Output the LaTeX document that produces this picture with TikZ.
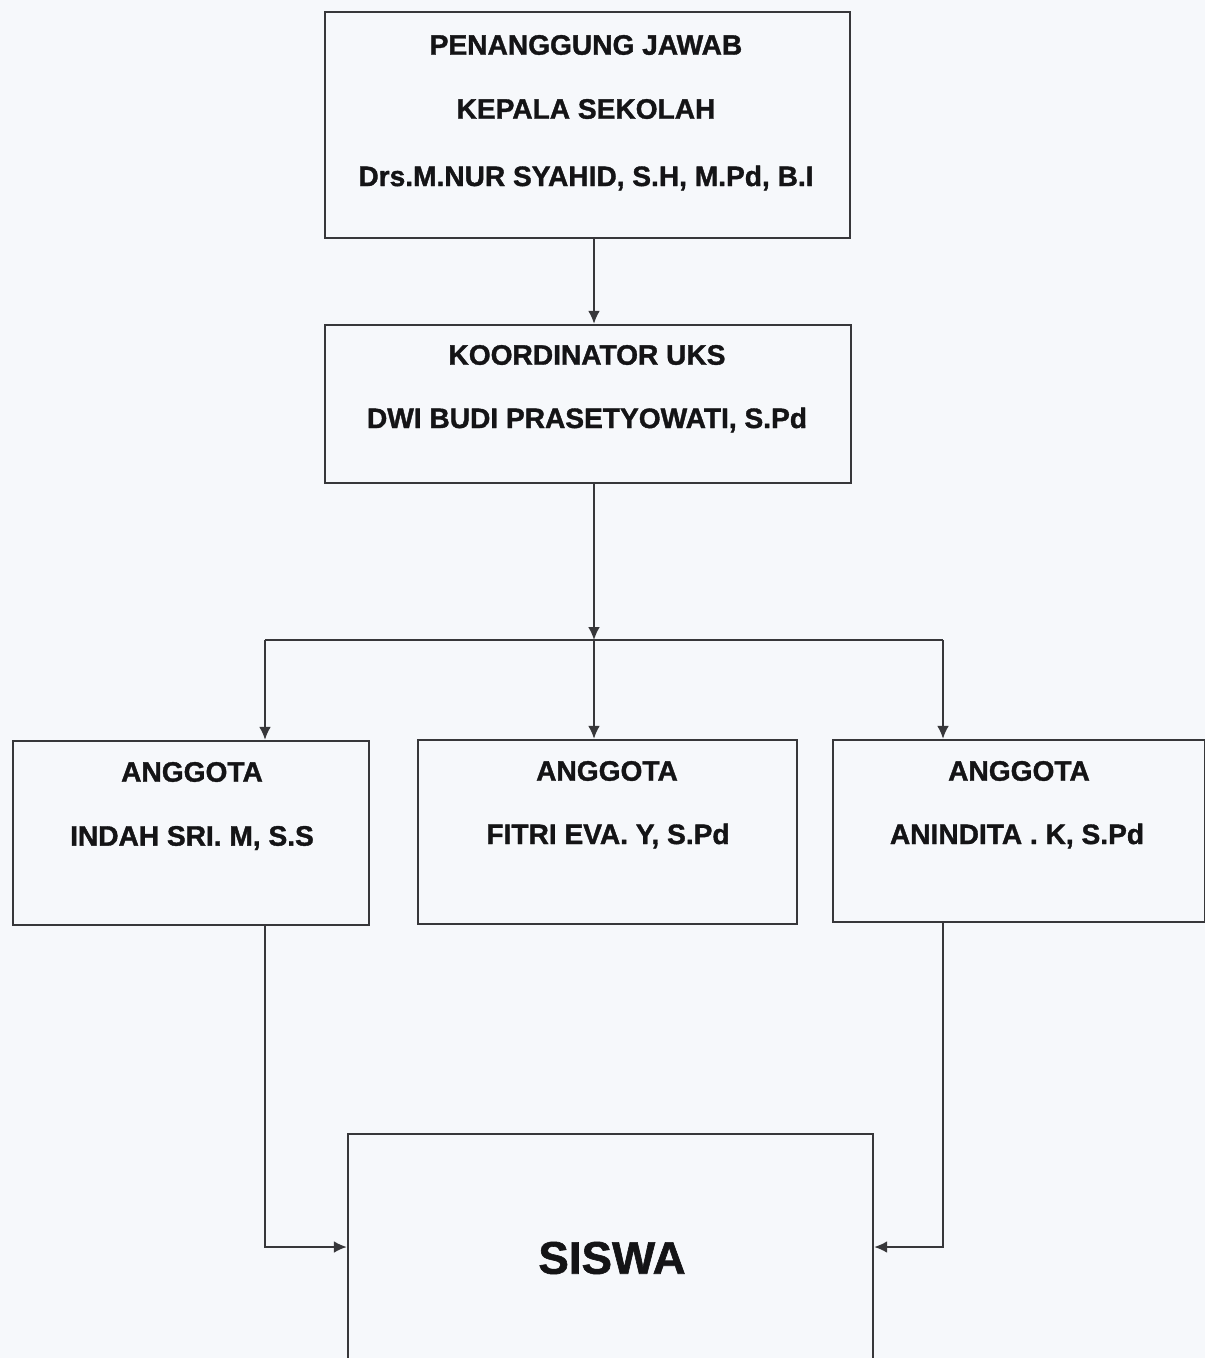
\documentclass[tikz,border=0pt]{standalone}
\usepackage{fontspec}
\setmainfont{Liberation Sans}[BoldFeatures={FakeBold=1.3}]
\usetikzlibrary{arrows.meta}
\definecolor{bgc}{RGB}{246,248,251}
\definecolor{linec}{RGB}{55,55,58}
\definecolor{txtc}{RGB}{20,20,22}
\begin{document}
\begin{tikzpicture}[x=0.03cm,y=-0.03cm,
  box/.style={draw=linec,line width=2pt,fill=bgc,inner sep=0pt},
  lbl/.style={font=\fontsize{24}{28}\selectfont\bfseries,text=txtc,inner sep=0pt},
  big/.style={font=\fontsize{39}{44}\selectfont\bfseries,text=txtc,inner sep=0pt},
  conn/.style={draw=linec,line width=1.6pt},
  arr/.style={conn,-{Latex[length=11pt,width=10pt]}}]
\fill[bgc] (0,0) rectangle (1205,1358);
\useasboundingbox (0,0) rectangle (1205,1358);
% boxes
\node[box,minimum width=15.75cm,minimum height=6.78cm] (top) at (587.5,125) {};
\node[box,minimum width=15.78cm,minimum height=4.74cm] (koord) at (588,404) {};
\node[box,minimum width=10.68cm,minimum height=5.52cm] (a1) at (191,833) {};
\node[box,minimum width=11.37cm,minimum height=5.52cm] (a2) at (607.5,832) {};
\node[box,minimum width=11.16cm,minimum height=5.46cm] (a3) at (1019,831) {};
\node[box,minimum width=15.75cm,minimum height=6.78cm] (siswa) at (610.5,1247) {};
% labels
\node[lbl] (t1) at (586,45) {PENANGGUNG JAWAB};
\node[lbl] (t2) at (586,109) {KEPALA SEKOLAH};
\node[lbl] (t3) at (586,178) {Drs.M.NUR SYAHID, S.H, M.Pd, B.I};
\node[lbl] (k1) at (587,355) {KOORDINATOR UKS};
\node[lbl] (k2) at (587,420) {DWI BUDI PRASETYOWATI, S.Pd};
\node[lbl] (a1t) at (192,772) {ANGGOTA};
\node[lbl] (a1n) at (192,838) {INDAH SRI. M, S.S};
\node[lbl] (a2t) at (607,771) {ANGGOTA};
\node[lbl] (a2n) at (608,836) {FITRI EVA. Y, S.Pd};
\node[lbl] (a3t) at (1019,771) {ANGGOTA};
\node[lbl] (a3n) at (1017,836) {ANINDITA . K, S.Pd};
\node[big] (st) at (612,1258) {SISWA};
% connectors
\coordinate (j) at (594,640);
\coordinate (jl) at (265,640);
\coordinate (jr) at (943,640);
\draw[arr] (top.south -| j) -- (koord.north -| j);
\draw[arr] (koord.south -| j) -- (j);
\draw[conn] (jl) -- (jr);
\draw[arr] (jl) -- (a1.north -| jl);
\draw[arr] (j) -- (a2.north -| j);
\draw[arr] (jr) -- (a3.north -| jr);
\draw[arr] (a1.south -| jl) |- (siswa.west);
\draw[arr] (a3.south -| jr) |- (siswa.east);
\end{tikzpicture}
\end{document}
